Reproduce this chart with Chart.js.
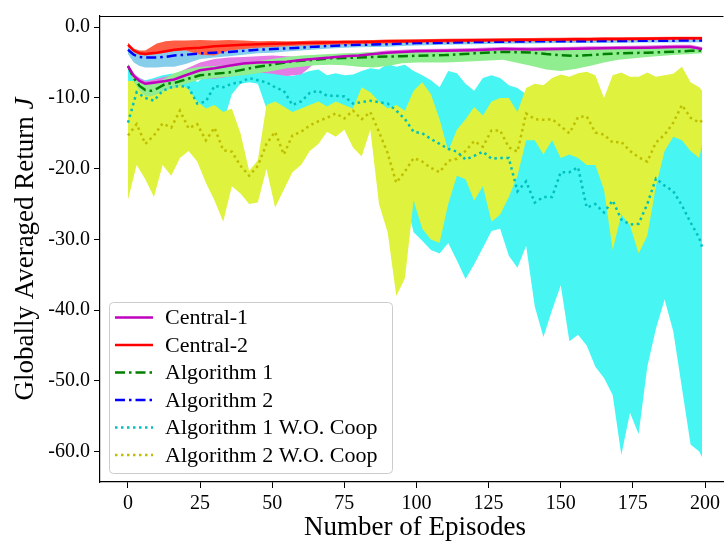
<!DOCTYPE html>
<html>
<head>
<meta charset="utf-8">
<script src="https://cdn.jsdelivr.net/npm/chart.js@4.4.0/dist/chart.umd.min.js"></script>
<style>body{margin:0;background:#fff}</style>
</head>
<body>
<canvas id="returns" width="724" height="542"></canvas>
<script>
// episodes for the smooth curves
var epsS = [0,2,4,6,8,10,13,16,20,25,30,35,40,45,50,55,60,65,70,75,80,85,90,95,100,110,120,130,140,145,150,155,160,165,170,180,190,195,199];

var central1   = [-5.5,-6.9,-7.6,-8.0,-7.9,-7.8,-7.6,-7.4,-6.8,-6.1,-5.8,-5.45,-5.15,-5.0,-4.95,-4.9,-4.65,-4.45,-4.3,-4.1,-4.0,-3.8,-3.6,-3.5,-3.4,-3.35,-3.25,-3.1,-3.15,-3.12,-3.1,-3.05,-3.0,-2.98,-2.95,-2.9,-2.8,-2.8,-3.1];
var central1Hi = [-5.2,-6.5,-7.2,-7.6,-7.5,-7.3,-7.0,-6.7,-5.9,-5.0,-4.5,-4.3,-4.2,-4.1,-4.0,-4.1,-4.2,-4.1,-4.0,-3.8,-3.7,-3.5,-3.3,-3.2,-3.1,-3.05,-2.95,-2.8,-2.85,-2.82,-2.8,-2.75,-2.7,-2.68,-2.65,-2.6,-2.5,-2.5,-2.8];
var central1Lo = [-5.8,-7.3,-8.0,-8.4,-8.3,-8.2,-8.0,-7.8,-7.3,-7.2,-7.3,-7.0,-6.6,-6.4,-6.6,-6.9,-6.7,-5.0,-4.7,-4.4,-4.3,-4.1,-3.9,-3.8,-3.7,-3.65,-3.55,-3.4,-3.45,-3.42,-3.4,-3.35,-3.3,-3.28,-3.25,-3.2,-3.1,-3.1,-3.4];

var central2   = [-2.5,-3.3,-3.7,-3.8,-3.7,-3.6,-3.4,-3.2,-3.0,-2.9,-2.7,-2.6,-2.5,-2.4,-2.35,-2.3,-2.25,-2.2,-2.15,-2.1,-2.1,-2.05,-2.0,-1.98,-1.95,-1.9,-1.85,-1.8,-1.78,-1.76,-1.74,-1.72,-1.7,-1.68,-1.66,-1.62,-1.58,-1.56,-1.55];
var central2Hi = [-2.2,-3.0,-3.3,-3.3,-2.8,-2.3,-2.0,-1.9,-1.9,-1.8,-1.9,-1.8,-1.9,-2.0,-1.95,-2.0,-1.95,-1.9,-1.9,-1.88,-1.85,-1.8,-1.75,-1.72,-1.7,-1.65,-1.6,-1.55,-1.52,-1.5,-1.48,-1.46,-1.45,-1.43,-1.42,-1.4,-1.37,-1.36,-1.35];
var central2Lo = [-2.8,-3.5,-3.9,-4.0,-3.9,-3.8,-3.6,-3.4,-3.3,-3.9,-4.0,-3.3,-3.1,-2.9,-2.8,-2.7,-2.6,-2.55,-2.5,-2.45,-2.4,-2.35,-2.3,-2.25,-2.2,-2.15,-2.1,-2.05,-2.02,-2.0,-2.0,-1.98,-1.95,-1.93,-1.9,-1.85,-1.8,-1.78,-1.75];

var alg1   = [-5.5,-7.2,-8.3,-8.9,-9.0,-8.7,-8.0,-7.9,-7.4,-6.8,-6.6,-6.4,-6.0,-5.6,-5.3,-4.95,-4.75,-4.6,-4.4,-4.35,-4.3,-4.2,-4.15,-4.1,-4.05,-3.95,-3.7,-3.5,-3.6,-3.8,-3.95,-4.05,-3.95,-3.8,-3.7,-3.6,-3.45,-3.35,-3.3];
var alg1Hi = [-5.2,-6.7,-7.6,-8.0,-8.1,-7.9,-7.2,-6.5,-6.0,-5.6,-5.5,-5.3,-5.1,-4.8,-4.5,-4.2,-4.0,-3.9,-3.8,-3.7,-3.6,-3.5,-3.5,-3.5,-3.5,-3.4,-3.2,-3.0,-3.0,-3.05,-3.1,-3.2,-3.1,-3.05,-3.0,-3.0,-2.9,-2.85,-2.8];
var alg1Lo = [-5.8,-7.7,-9.0,-9.7,-9.8,-9.5,-8.9,-8.6,-8.0,-7.4,-7.2,-7.0,-6.8,-6.5,-6.2,-5.8,-5.6,-5.4,-5.3,-5.4,-5.6,-5.7,-5.5,-5.1,-5.0,-5.0,-4.8,-4.6,-5.5,-6.0,-6.2,-5.9,-5.5,-5.0,-4.6,-4.2,-3.9,-3.8,-3.7];

var alg2   = [-3.2,-3.9,-4.2,-4.3,-4.3,-4.3,-4.2,-4.0,-3.9,-3.7,-3.6,-3.5,-3.35,-3.2,-3.1,-3.0,-2.9,-2.75,-2.65,-2.55,-2.5,-2.45,-2.4,-2.3,-2.25,-2.2,-2.1,-2.05,-2.0,-2.0,-2.0,-1.99,-1.98,-1.96,-1.95,-1.93,-1.9,-1.9,-1.9];
var alg2Hi = [-2.9,-3.3,-3.5,-3.5,-3.5,-3.4,-3.3,-3.2,-3.1,-3.1,-3.1,-3.0,-2.9,-2.8,-2.7,-2.6,-2.5,-2.45,-2.4,-2.3,-2.25,-2.2,-2.15,-2.1,-2.05,-2.0,-1.9,-1.85,-1.8,-1.8,-1.8,-1.8,-1.8,-1.78,-1.77,-1.75,-1.72,-1.71,-1.7];
var alg2Lo = [-3.8,-5.0,-5.5,-5.7,-5.7,-5.7,-5.6,-5.6,-5.2,-4.5,-4.3,-4.1,-3.9,-3.7,-3.6,-3.45,-3.3,-3.15,-3.0,-2.9,-2.85,-2.8,-2.75,-2.65,-2.6,-2.5,-2.4,-2.35,-2.3,-2.28,-2.25,-2.25,-2.25,-2.22,-2.2,-2.18,-2.15,-2.15,-2.12];

// episodes for the noisy (no cooperation) curves
var epsW = [0,3,6,9,12,15,18,21,24,27,30,33,36,39,42,45,48,51,54,57,60,63,66,69,72,75,78,81,84,87,90,93,96,99,102,105,108,111,114,117,120,123,126,129,132,135,138,141,144,147,150,153,156,159,162,165,168,171,174,177,180,183,186,189,192,195,198,199];

var alg1WO   = [-13.5,-9.2,-10.0,-10.4,-9.0,-8.5,-8.3,-8.5,-10.8,-10.5,-8.3,-8.5,-8.0,-7.8,-7.2,-7.5,-7.8,-8.5,-9.0,-11.0,-10.5,-9.3,-9.0,-9.7,-9.7,-9.8,-10.8,-10.6,-10.4,-10.6,-10.8,-11.8,-13.0,-14.8,-15.0,-15.8,-16.5,-17.2,-17.6,-18.7,-18.2,-17.6,-18.6,-18.5,-18.5,-23.2,-21.8,-24.8,-24.0,-24.0,-20.5,-20.5,-19.8,-25.5,-25.0,-26.2,-24.5,-27.2,-27.9,-27.8,-25.0,-21.4,-22.4,-23.2,-25.2,-27.6,-29.8,-31.1];
var alg1WOHi = [-6.0,-7.0,-7.5,-7.2,-6.8,-6.6,-6.5,-6.6,-7.8,-6.8,-6.3,-6.4,-6.2,-6.0,-6.2,-6.4,-6.2,-6.3,-6.8,-6.9,-6.6,-6.2,-6.0,-6.8,-6.5,-6.8,-6.7,-6.2,-5.8,-6.0,-5.2,-5.6,-5.3,-6.2,-6.8,-7.5,-8.5,-6.2,-6.5,-8.0,-9.0,-7.2,-6.8,-7.2,-8.2,-8.6,-9.5,-10.5,-10.5,-10.5,-10.5,-10.5,-10.5,-10.5,-10.5,-11.5,-10.5,-10.5,-10.5,-10.5,-10.5,-10.5,-10.5,-10.5,-10.5,-10.5,-10.5,-10.5];
var alg1WOLo = [-14.0,-13.0,-13.0,-13.0,-13.5,-14.0,-14.0,-15.0,-18.5,-14.0,-13.5,-13.5,-9.5,-8.0,-7.8,-8.0,-11.5,-13.5,-14.0,-14.5,-14.0,-13.5,-13.0,-13.0,-13.0,-13.5,-14.0,-14.0,-14.0,-18.0,-20.0,-22.0,-24.0,-29.0,-30.2,-31.5,-32.0,-30.5,-33.0,-35.6,-33.5,-31.2,-28.8,-28.5,-32.3,-34.0,-30.9,-39.5,-43.8,-40.0,-36.5,-44.4,-43.5,-45.0,-48.0,-49.6,-52.0,-60.5,-54.5,-57.5,-48.0,-42.6,-38.5,-43.0,-51.0,-59.0,-60.0,-60.8];

var alg2WO   = [-15.3,-13.7,-16.5,-15.3,-13.6,-14.2,-11.8,-14.3,-13.7,-16.0,-14.2,-17.4,-17.6,-19.6,-21.0,-19.6,-16.5,-14.8,-18.0,-15.3,-14.8,-13.9,-13.3,-12.8,-12.2,-12.9,-11.8,-13.0,-12.0,-14.8,-17.8,-22.0,-20.4,-18.5,-19.0,-19.9,-20.5,-18.9,-18.6,-17.5,-16.1,-16.9,-14.6,-14.6,-17.0,-17.6,-12.2,-13.0,-13.1,-13.0,-14.0,-15.0,-12.7,-12.6,-14.9,-15.2,-16.3,-16.2,-17.5,-18.4,-19.0,-16.3,-15.2,-13.5,-11.0,-12.8,-13.5,-13.2];
var alg2WOHi = [-7.6,-7.6,-7.7,-7.6,-7.8,-7.8,-8.0,-8.8,-10.5,-11.5,-11.0,-12.0,-11.5,-15.0,-20.3,-18.8,-11.0,-10.5,-11.2,-12.0,-11.5,-11.0,-10.5,-11.2,-10.5,-11.0,-11.5,-8.5,-9.2,-10.5,-11.5,-11.0,-11.8,-9.0,-7.8,-9.5,-13.0,-17.5,-14.5,-13.0,-11.3,-12.5,-10.5,-10.0,-10.0,-12.0,-8.6,-8.0,-8.2,-7.2,-6.7,-7.0,-6.5,-6.3,-6.8,-10.0,-6.8,-6.4,-7.0,-7.0,-6.4,-7.0,-6.8,-6.6,-5.6,-7.8,-8.5,-9.0];
var alg2WOLo = [-24.4,-19.5,-21.5,-24.0,-19.5,-21.0,-18.5,-17.5,-19.0,-22.0,-24.5,-27.5,-22.5,-23.5,-25.0,-24.8,-20.0,-25.5,-23.0,-20.5,-19.5,-17.5,-16.5,-14.8,-15.5,-14.5,-17.0,-18.3,-14.5,-25.0,-29.0,-38.0,-35.5,-24.5,-28.5,-30.0,-30.5,-25.0,-21.0,-21.5,-24.5,-22.5,-27.5,-26.5,-24.0,-21.0,-16.0,-16.0,-18.0,-16.0,-18.5,-18.0,-18.5,-19.5,-19.5,-23.0,-31.5,-26.5,-28.0,-32.0,-29.5,-22.5,-17.5,-15.5,-16.0,-17.5,-18.5,-16.5];

var xTicks = [0, 25, 50, 75, 100, 125, 150, 175, 200];
var yTicks = [0, -10, -20, -30, -40, -50, -60];

function pts(xs, ys) {
  return xs.map(function (x, i) { return {x: x, y: ys[i]}; });
}

var series = [
  {label: 'Central-1', x: epsS, m: central1, hi: central1Hi, lo: central1Lo, color: '#BF00BF', band: '#E47BE4', dash: [], lineOrder: 1, bandOrder: 13},
  {label: 'Central-2', x: epsS, m: central2, hi: central2Hi, lo: central2Lo, color: '#FF0000', band: '#FF5E45', dash: [], lineOrder: 2, bandOrder: 10},
  {label: 'Algorithm 1', x: epsS, m: alg1, hi: alg1Hi, lo: alg1Lo, color: '#008000', band: '#90EE90', dash: [10, 4, 2.5, 4], lineOrder: 4, bandOrder: 12},
  {label: 'Algorithm 2', x: epsS, m: alg2, hi: alg2Hi, lo: alg2Lo, color: '#0000FF', band: '#87CEEB', dash: [10, 4, 2.5, 4], lineOrder: 3, bandOrder: 11},
  {label: 'Algorithm 1 W.O. Coop', x: epsW, m: alg1WO, hi: alg1WOHi, lo: alg1WOLo, color: '#00BFBF', band: '#47F5F2', dash: [2.5, 3.5], lineOrder: 5, bandOrder: 15},
  {label: 'Algorithm 2 W.O. Coop', x: epsW, m: alg2WO, hi: alg2WOHi, lo: alg2WOLo, color: '#BFBF00', band: '#DEF23E', dash: [2.5, 3.5], lineOrder: 6, bandOrder: 14}
];

var datasets = [];
series.forEach(function (s) {
  datasets.push({label: s.label + ' lo', data: pts(s.x, s.lo), borderWidth: 0, pointRadius: 0, fill: false, order: s.bandOrder});
  datasets.push({label: s.label + ' hi', data: pts(s.x, s.hi), borderWidth: 0, pointRadius: 0, fill: '-1', backgroundColor: s.band, order: s.bandOrder});
});
series.forEach(function (s) {
  datasets.push({label: s.label, data: pts(s.x, s.m), borderColor: s.color, borderWidth: 2.5, borderDash: s.dash, pointRadius: 0, fill: false, order: s.lineOrder, isLine: true});
});

var serif = 'Liberation Serif';

var decor = {
  id: 'decor',
  afterDraw: function (chart) {
    var ctx = chart.ctx, a = chart.chartArea;
    ctx.save();
    // top spine
    ctx.strokeStyle = '#000';
    ctx.lineWidth = 1.2;
    ctx.beginPath();
    ctx.moveTo(a.left, a.top + 0.5);
    ctx.lineTo(a.right, a.top + 0.5);
    ctx.stroke();

    // x title
    ctx.fillStyle = '#000';
    ctx.font = '27px "' + serif + '"';
    ctx.textAlign = 'center';
    ctx.textBaseline = 'alphabetic';
    ctx.fillText('Number of Episodes', 415, 535);

    // y title with italic J
    ctx.save();
    ctx.translate(33, (a.top + a.bottom) / 2);
    ctx.rotate(-Math.PI / 2);
    var t1 = 'Globally Averaged Return ';
    ctx.font = '27px "' + serif + '"';
    var w1 = ctx.measureText(t1).width;
    ctx.font = 'italic 27px "' + serif + '"';
    var w2 = ctx.measureText('J').width;
    var x0 = -(w1 + w2) / 2;
    ctx.textAlign = 'left';
    ctx.font = '27px "' + serif + '"';
    ctx.fillText(t1, x0, 0);
    ctx.font = 'italic 27px "' + serif + '"';
    ctx.fillText('J', x0 + w1, 0);
    ctx.restore();

    // legend
    var bx = 109.5, by = 302.5, bw = 283, bh = 171, r = 4;
    ctx.beginPath();
    ctx.moveTo(bx + r, by);
    ctx.arcTo(bx + bw, by, bx + bw, by + bh, r);
    ctx.arcTo(bx + bw, by + bh, bx, by + bh, r);
    ctx.arcTo(bx, by + bh, bx, by, r);
    ctx.arcTo(bx, by, bx + bw, by, r);
    ctx.closePath();
    ctx.fillStyle = 'rgba(255,255,255,0.8)';
    ctx.fill();
    ctx.strokeStyle = '#cccccc';
    ctx.lineWidth = 1;
    ctx.stroke();

    var lines = chart.data.datasets.filter(function (d) { return d.isLine; });
    ctx.font = '22px "' + serif + '"';
    ctx.textAlign = 'left';
    ctx.textBaseline = 'middle';
    lines.forEach(function (d, i) {
      var cy = 317.5 + i * 27.5;
      ctx.strokeStyle = d.borderColor;
      ctx.lineWidth = 2.5;
      ctx.setLineDash(d.borderDash);
      ctx.beginPath();
      ctx.moveTo(115, cy);
      ctx.lineTo(153, cy);
      ctx.stroke();
      ctx.setLineDash([]);
      ctx.fillStyle = '#000';
      ctx.fillText(d.label, 165, cy + 1);
    });
    ctx.restore();
  }
};

new Chart(document.getElementById('returns').getContext('2d'), {
  type: 'line',
  data: {datasets: datasets},
  options: {
    responsive: false,
    animation: false,
    layout: {padding: {top: 11, right: 0, bottom: 0, left: 0}},
    plugins: {legend: {display: false}, tooltip: {enabled: false}},
    scales: {
      x: {
        type: 'linear', min: -9.7, max: 206.4,
        afterBuildTicks: function (s) { s.ticks = xTicks.map(function (v) { return {value: v}; }); },
        afterFit: function (s) { s.height = 60; },
        grid: {drawOnChartArea: false, drawTicks: true, tickLength: 6, color: '#000'},
        border: {color: '#000', width: 1.2},
        ticks: {color: '#000', padding: 4, maxRotation: 0, font: {family: serif, size: 20}}
      },
      y: {
        type: 'linear', min: -64.3, max: 1.58,
        afterBuildTicks: function (s) { s.ticks = yTicks.map(function (v) { return {value: v}; }); },
        afterFit: function (s) { s.width = 100; },
        grid: {drawOnChartArea: false, drawTicks: true, tickLength: 6, color: '#000'},
        border: {color: '#000', width: 1.2},
        ticks: {color: '#000', padding: 4, font: {family: serif, size: 20},
          callback: function (v) { return (v === 0 ? 0 : v).toFixed(1); }}
      }
    }
  },
  plugins: [decor]
});
</script>
</body>
</html>
